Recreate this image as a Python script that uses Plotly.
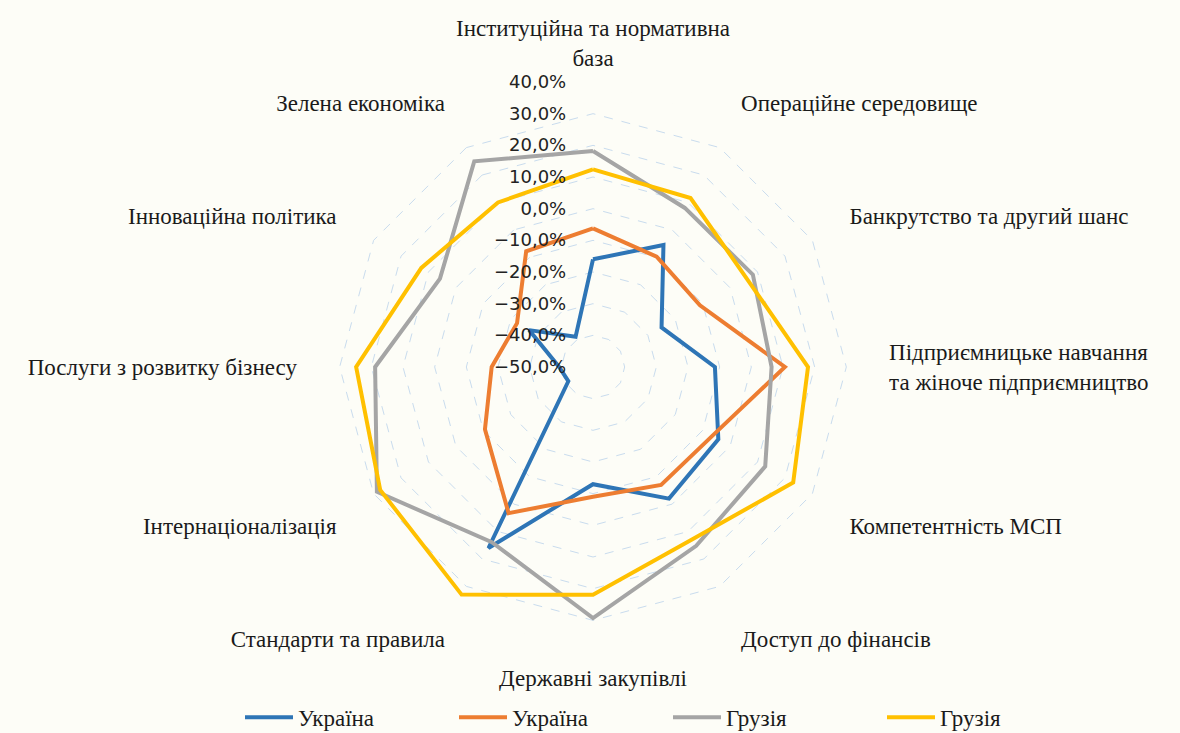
import plotly.graph_objects as go

categories = [
    "Інституційна та нормативна<br>база",
    "Операційне середовище",
    "Банкрутство та другий шанс",
    "Підприємницьке навчання<br>та жіноче підприємництво",
    "Компетентність МСП",
    "Доступ до фінансів",
    "Державні закупівлі",
    "Стандарти та правила",
    "Інтернаціоналізація",
    "Послуги з розвитку бізнесу",
    "Інноваційна політика",
    "Зелена економіка",
]

ukraine_1 = [-16.0, -5.5, -25.0, -11.5, -4.3, -2.0, -13.0, 16.0, -41.0, -39.3, -26.7, -39.0]
ukraine_2 = [-6.2, -9.8, -11.0, 10.6, -6.5, -7.0, -9.0, 3.3, -10.6, -18.0, -22.3, -7.8]
georgia_1 = [18.2, 8.0, 8.3, 6.4, 12.8, 15.2, 29.3, 13.9, 28.8, 18.8, 5.8, 25.0]
georgia_2 = [12.4, 11.6, 6.0, 17.9, 23.0, 12.8, 21.9, 33.0, 27.6, 24.8, 12.6, 10.0]

series = [
    ("Україна", ukraine_1, "#2E75B6"),
    ("Україна", ukraine_2, "#ED7D31"),
    ("Грузія", georgia_1, "#A5A5A5"),
    ("Грузія", georgia_2, "#FFC000"),
]

bg = "#FDFDF7"
serif = "Liberation Serif"

fig = go.Figure()
for name, vals, color in series:
    fig.add_trace(go.Scatterpolar(
        r=vals + vals[:1],
        theta=categories + categories[:1],
        mode="lines",
        name=name,
        line=dict(color=color, width=4),
        hoverinfo="skip",
    ))

fig.update_layout(
    width=1180,
    height=733,
    paper_bgcolor=bg,
    plot_bgcolor=bg,
    separators=", ",
    margin=dict(l=0, r=0, t=0, b=0, autoexpand=False),
    font=dict(family=serif, size=23, color="#1a1a1a"),
    polar=dict(
        bgcolor=bg,
        domain=dict(x=[308 / 1180, 878 / 1180], y=[1 - 652 / 733, 1 - 82 / 733]),
        gridshape="linear",
        radialaxis=dict(
            range=[-50, 40],
            dtick=10,
            tick0=0,
            tickformat=".1f",
            ticksuffix="%",
            angle=90,
            side="counterclockwise",
            tickangle=90,
            showline=False,
            ticks="outside",
            ticklen=20,
            tickcolor="rgba(0,0,0,0)",
            gridcolor="#C9DCEE",
            griddash="dash",
            gridwidth=1,
            tickfont=dict(family="DejaVu Sans", size=18, color="#222222"),
        ),
        angularaxis=dict(
            direction="clockwise",
            rotation=90,
            showgrid=False,
            showline=False,
            ticks="outside",
            ticklen=6,
            tickcolor="rgba(0,0,0,0)",
            tickfont=dict(family=serif, size=23, color="#1a1a1a"),
        ),
    ),
    legend=dict(
        orientation="h",
        x=240 / 1180,
        xanchor="left",
        y=-0.008,
        yanchor="bottom",
        font=dict(family=serif, size=23, color="#1a1a1a"),
        bgcolor="rgba(0,0,0,0)",
        itemwidth=48,
        entrywidth=151,
    ),
)

fig.write_html(
    "out.html",
    config={"displayModeBar": False},
    post_script="document.body.style.margin='0';",
)
